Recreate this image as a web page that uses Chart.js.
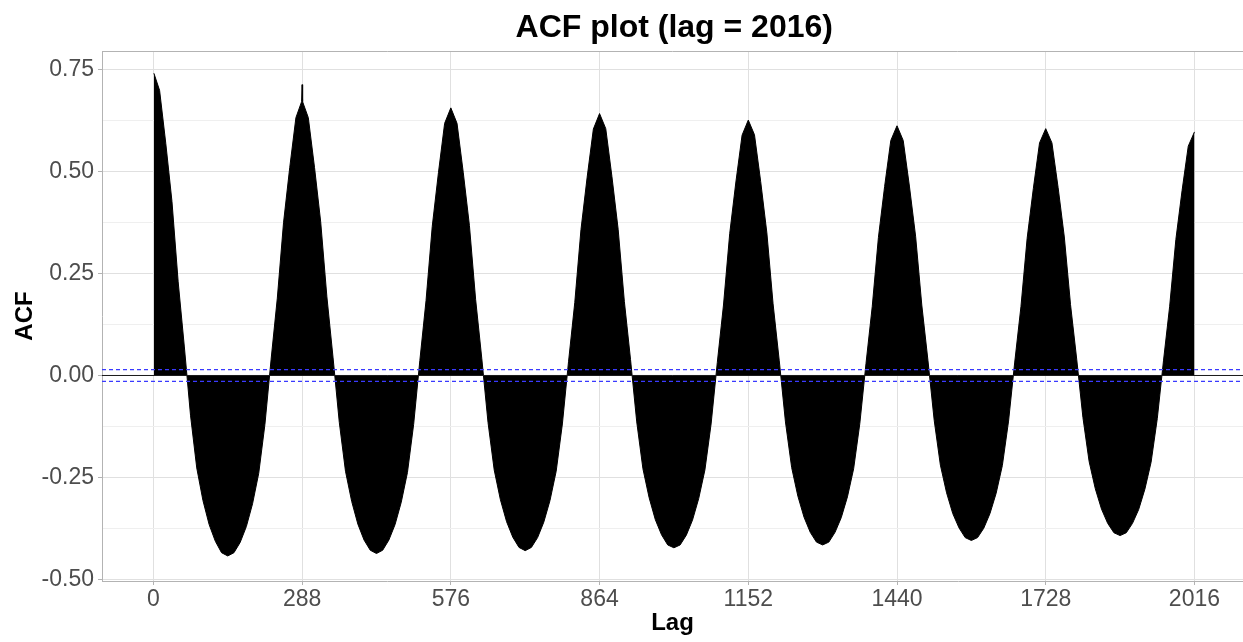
<!DOCTYPE html>
<html>
<head>
<meta charset="utf-8">
<title>ACF plot</title>
<script src="https://cdn.jsdelivr.net/npm/chart.js@4.4.1/dist/chart.umd.min.js"></script>
<style>
  html, body { margin: 0; padding: 0; background: #ffffff; }
  #acfChart { display: block; }
</style>
</head>
<body>
<canvas id="acfChart" width="1243" height="642"></canvas>
<script>
// lags (every 12 lags, plus the spike around 288)
const acfLags = [
  1, 12, 24, 36, 48, 60, 72, 84, 96, 108, 120, 132, 144,
  156, 168, 180, 192, 204, 216, 228, 240, 252, 264, 276, 287, 288, 289,
  300, 312, 324, 336, 348, 360, 372, 384, 396, 408, 420, 432,
  444, 456, 468, 480, 492, 504, 516, 528, 540, 552, 564, 576,
  588, 600, 612, 624, 636, 648, 660, 672, 684, 696, 708, 720,
  732, 744, 756, 768, 780, 792, 804, 816, 828, 840, 852, 864,
  876, 888, 900, 912, 924, 936, 948, 960, 972, 984, 996, 1008,
  1020, 1032, 1044, 1056, 1068, 1080, 1092, 1104, 1116, 1128, 1140, 1152,
  1164, 1176, 1188, 1200, 1212, 1224, 1236, 1248, 1260, 1272, 1284, 1296,
  1308, 1320, 1332, 1344, 1356, 1368, 1380, 1392, 1404, 1416, 1428, 1440,
  1452, 1464, 1476, 1488, 1500, 1512, 1524, 1536, 1548, 1560, 1572, 1584,
  1596, 1608, 1620, 1632, 1644, 1656, 1668, 1680, 1692, 1704, 1716, 1728,
  1740, 1752, 1764, 1776, 1788, 1800, 1812, 1824, 1836, 1848, 1860, 1872,
  1884, 1896, 1908, 1920, 1932, 1944, 1956, 1968, 1980, 1992, 2004, 2016
];

const acfValues = [
  0.742, 0.700, 0.570, 0.427, 0.230, 0.070, -0.099, -0.227, -0.307, -0.366, -0.407, -0.435, -0.443,
  -0.435, -0.410, -0.371, -0.315, -0.240, -0.120, 0.040, 0.190, 0.375, 0.510, 0.633, 0.672, 0.714, 0.672,
  0.633, 0.511, 0.377, 0.193, 0.043, -0.115, -0.235, -0.309, -0.365, -0.404, -0.429, -0.437,
  -0.429, -0.404, -0.366, -0.311, -0.238, -0.120, 0.037, 0.184, 0.366, 0.498, 0.619, 0.657,
  0.619, 0.499, 0.368, 0.187, 0.041, -0.115, -0.232, -0.305, -0.359, -0.397, -0.422, -0.430,
  -0.422, -0.398, -0.360, -0.307, -0.235, -0.119, 0.035, 0.179, 0.358, 0.487, 0.605, 0.643,
  0.606, 0.488, 0.359, 0.182, 0.039, -0.114, -0.229, -0.300, -0.354, -0.391, -0.416, -0.423,
  -0.416, -0.392, -0.355, -0.302, -0.232, -0.119, 0.032, 0.173, 0.348, 0.475, 0.590, 0.627,
  0.591, 0.476, 0.350, 0.176, 0.036, -0.114, -0.226, -0.296, -0.348, -0.385, -0.409, -0.416,
  -0.409, -0.385, -0.349, -0.298, -0.229, -0.118, 0.030, 0.169, 0.339, 0.464, 0.577, 0.613,
  0.577, 0.465, 0.342, 0.173, 0.036, -0.110, -0.220, -0.288, -0.339, -0.374, -0.398, -0.405,
  -0.398, -0.375, -0.339, -0.289, -0.221, -0.112, 0.033, 0.169, 0.337, 0.459, 0.571, 0.606,
  0.571, 0.461, 0.340, 0.174, 0.040, -0.103, -0.211, -0.278, -0.328, -0.363, -0.386, -0.393,
  -0.386, -0.363, -0.329, -0.279, -0.213, -0.106, 0.036, 0.170, 0.334, 0.454, 0.563, 0.598
];

// significance bounds (blue dashed) and axis setup
const ciLevel = 0.0146;
const maxLag = 2016;
const lagStep = 288;
const xMin = -99.5;
const xMax = 2110;
const yMin = -0.5045;
const yMax = 0.7966;

const fontFamily = "'Liberation Sans', Arial, Helvetica, sans-serif";
Chart.defaults.font.family = fontFamily;

function isMajor(v) {
  return Math.abs(v * 4 - Math.round(v * 4)) < 1e-6;
}

function hline(y, color, dash, width, order) {
  return {
    type: 'line',
    data: [{x: xMin, y: y}, {x: xMax, y: y}],
    borderColor: color,
    backgroundColor: color,
    borderWidth: width,
    borderDash: dash,
    pointRadius: 0,
    fill: false,
    order: order
  };
}

// title centred on the (cropped) ggplot panel + top border of the panel
const panelDecor = {
  id: 'panelDecor',
  afterDraw(chart) {
    const ctx = chart.ctx;
    const area = chart.chartArea;
    const xs = chart.scales.x;
    ctx.save();
    ctx.strokeStyle = '#b3b3b3';
    ctx.lineWidth = 1;
    ctx.beginPath();
    ctx.moveTo(area.left, area.top + 0.5);
    ctx.lineTo(area.right, area.top + 0.5);
    ctx.stroke();

    const panelRight = xs.getPixelForValue(maxLag * 1.05);
    ctx.fillStyle = '#000000';
    ctx.font = 'bold 32px ' + fontFamily;
    ctx.textAlign = 'center';
    ctx.textBaseline = 'alphabetic';
    ctx.fillText('ACF plot (lag = 2016)', (area.left + panelRight) / 2, 37);
    ctx.restore();
  }
};

function renderChart() {
  const ctx = document.getElementById('acfChart');

  const acfPoints = acfLags.map((lag, i) => ({x: lag, y: acfValues[i]}));

  const config = {
    type: 'line',
    data: {
      datasets: [
        hline(0, '#1a1a1a', [], 1, 0),
        hline(ciLevel, '#3a3aff', [4, 3], 1.3, 1),
        hline(-ciLevel, '#3a3aff', [4, 3], 1.3, 1),
        {
          label: 'ACF',
          data: acfPoints,
          borderColor: '#000000',
          backgroundColor: '#000000',
          borderWidth: 1,
          pointRadius: 0,
          tension: 0,
          fill: 'origin',
          order: 5
        }
      ]
    },
    options: {
      responsive: false,
      animation: false,
      devicePixelRatio: 1,
      layout: {
        padding: {top: 51, right: 0, bottom: 0, left: 0}
      },
      scales: {
        x: {
          type: 'linear',
          min: xMin,
          max: xMax,
          afterFit: scale => { scale.height = 61; },
          ticks: {
            stepSize: lagStep,
            includeBounds: false,
            autoSkip: false,
            maxRotation: 0,
            padding: 1,
            color: '#4d4d4d',
            font: {size: 23},
            callback: v => String(Math.round(v))
          },
          grid: {
            color: '#e0e0e0',
            tickColor: '#b3b3b3',
            tickLength: 4
          },
          border: {color: '#b3b3b3', width: 1},
          title: {
            display: true,
            text: 'Lag',
            color: '#000000',
            font: {size: 24, weight: 'bold'},
            padding: {top: 0, bottom: 4}
          }
        },
        y: {
          min: yMin,
          max: yMax,
          afterFit: scale => { scale.width = 102; },
          ticks: {
            stepSize: 0.125,
            includeBounds: false,
            autoSkip: false,
            padding: 4,
            color: '#4d4d4d',
            font: {size: 23},
            callback: v => isMajor(v) ? v.toFixed(2) : ''
          },
          grid: {
            color: c => isMajor(c.tick.value) ? '#e0e0e0' : '#efefef',
            tickColor: c => isMajor(c.tick.value) ? '#b3b3b3' : 'rgba(0,0,0,0)',
            tickLength: 4
          },
          border: {color: '#b3b3b3', width: 1},
          title: {
            display: true,
            text: 'ACF',
            color: '#000000',
            font: {size: 24, weight: 'bold'},
            padding: {top: 11, bottom: 0}
          }
        }
      },
      plugins: {
        colors: {enabled: false},
        legend: {display: false},
        tooltip: {enabled: false},
        title: {display: false}
      }
    },
    plugins: [panelDecor]
  };

  new Chart(ctx, config);
}

renderChart();
</script>
</body>
</html>
